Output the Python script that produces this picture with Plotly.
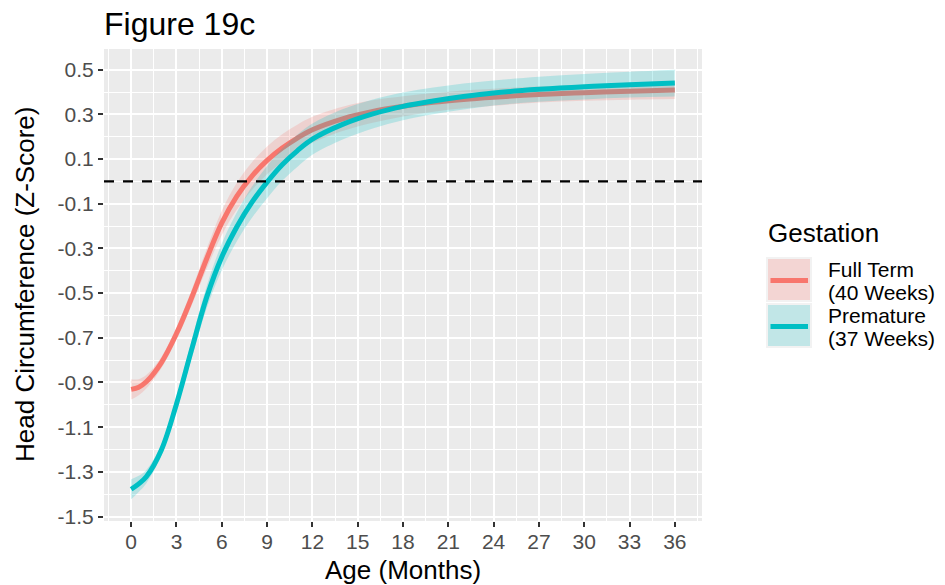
import plotly.graph_objects as go

# ---------------- data ----------------
months = [0, 0.5, 1, 2, 3, 4, 5, 6, 7, 8, 9, 10, 11, 12, 14, 16, 18, 20, 22, 24, 27, 30, 33, 36]

full_term = [-0.931, -0.921, -0.897, -0.811, -0.681, -0.521, -0.346, -0.186, -0.066, 0.024,
             0.094, 0.149, 0.194, 0.231, 0.280, 0.313, 0.336, 0.354, 0.367, 0.377,
             0.389, 0.397, 0.404, 0.409]
full_term_se = [0.045, 0.036, 0.030, 0.025, 0.028, 0.035, 0.045, 0.055, 0.060, 0.062,
                0.062, 0.062, 0.060, 0.058, 0.054, 0.050, 0.045, 0.042, 0.040, 0.038,
                0.036, 0.036, 0.038, 0.040]

premature = [-1.378, -1.354, -1.322, -1.202, -0.996, -0.753, -0.518, -0.338, -0.203, -0.093,
             -0.003, 0.075, 0.137, 0.189, 0.255, 0.302, 0.336, 0.360, 0.380, 0.396,
             0.412, 0.424, 0.433, 0.440]
premature_se = [0.045, 0.036, 0.030, 0.025, 0.030, 0.040, 0.050, 0.060, 0.065, 0.070,
                0.072, 0.072, 0.072, 0.070, 0.068, 0.065, 0.062, 0.060, 0.058, 0.056,
                0.056, 0.057, 0.058, 0.060]

x_ticks = [0, 3, 6, 9, 12, 15, 18, 21, 24, 27, 30, 33, 36]
y_ticks = [-1.5, -1.3, -1.1, -0.9, -0.7, -0.5, -0.3, -0.1, 0.1, 0.3, 0.5]
y_tick_labels = ["-1.5", "-1.3", "-1.1", "-0.9", "-0.7", "-0.5", "-0.3", "-0.1", "0.1", "0.3", "0.5"]

series_names = ["Full Term", "Premature"]
legend_lines = [["Full Term", "(40 Weeks)"], ["Premature", "(37 Weeks)"]]
line_colors = ["#F8766D", "#00BFC4"]
fill_colors = ["rgba(248,118,109,0.22)", "rgba(0,191,196,0.22)"]
key_fills = ["#F3D5D3", "#C1E6E7"]

FONT = "Liberation Sans, Arial, sans-serif"

W, H = 945, 585
ML, MR, MT, MB = 104, 243, 49, 64
PW, PH = W - ML - MR, H - MT - MB


def px(xp):
    return (xp - ML) / PW


def py(yp):
    return (H - MB - yp) / PH


fig = go.Figure()

for name, yv, se, lc, fc in zip(series_names, [full_term, premature],
                                [full_term_se, premature_se], line_colors, fill_colors):
    lower = [v - s for v, s in zip(yv, se)]
    upper = [v + s for v, s in zip(yv, se)]
    fig.add_trace(go.Scatter(x=months, y=lower, mode="lines",
                             line=dict(width=0, shape="spline", color=fc),
                             showlegend=False, hoverinfo="skip"))
    fig.add_trace(go.Scatter(x=months, y=upper, mode="lines", fill="tonexty",
                             fillcolor=fc, line=dict(width=0, shape="spline", color=fc),
                             showlegend=False, hoverinfo="skip"))
    fig.add_trace(go.Scatter(x=months, y=yv, mode="lines", name=name,
                             line=dict(width=5, shape="spline", color=lc),
                             showlegend=False))

# dashed reference line at zero
fig.add_shape(type="line", xref="paper", yref="y", x0=0, x1=1, y0=0, y1=0,
              line=dict(color="black", width=2.2, dash="10px,9px"), layer="above")

# ---------------- custom legend ----------------
shapes = []
annotations = []
annotations.append(dict(text="Gestation", x=px(766), y=py(233), xref="paper", yref="paper",
                        xanchor="left", yanchor="middle", showarrow=False,
                        font=dict(family=FONT, size=26, color="black")))
key_tops = [257, 303]
for i in range(2):
    t = key_tops[i]
    shapes.append(dict(type="rect", xref="paper", yref="paper",
                       x0=px(766), x1=px(812), y0=py(t), y1=py(t + 45),
                       fillcolor="#F2F2F2", line=dict(width=0), layer="above"))
    shapes.append(dict(type="rect", xref="paper", yref="paper",
                       x0=px(768), x1=px(810), y0=py(t + 2), y1=py(t + 43),
                       fillcolor=key_fills[i], line=dict(width=0), layer="above"))
    shapes.append(dict(type="line", xref="paper", yref="paper",
                       x0=px(770.5), x1=px(808), y0=py(t + 23.5), y1=py(t + 23.5),
                       line=dict(color=line_colors[i], width=5), layer="above"))
    for j, txt in enumerate(legend_lines[i]):
        annotations.append(dict(text=txt, x=px(826), y=py(t + 12 + j * 23.5),
                                xref="paper", yref="paper", xanchor="left", yanchor="middle",
                                showarrow=False,
                                font=dict(family=FONT, size=21, color="black")))

# titles
annotations.append(dict(text="Figure 19c", x=px(102), y=py(24), xref="paper", yref="paper",
                        xanchor="left", yanchor="middle", showarrow=False,
                        font=dict(family=FONT, size=32, color="black")))
annotations.append(dict(text="Age (Months)", x=0.5, y=py(570), xref="paper", yref="paper",
                        xanchor="center", yanchor="middle", showarrow=False,
                        font=dict(family=FONT, size=26, color="black")))
annotations.append(dict(text="Head Circumference (Z-Score)", x=px(25), y=0.5,
                        xref="paper", yref="paper", xanchor="center", yanchor="middle",
                        textangle=-90, showarrow=False,
                        font=dict(family=FONT, size=26, color="black")))

for s in shapes:
    fig.add_shape(**s)

fig.update_layout(
    width=W, height=H,
    margin=dict(l=ML, r=MR, t=MT, b=MB, pad=0),
    paper_bgcolor="white", plot_bgcolor="#EBEBEB",
    font=dict(family=FONT),
    showlegend=False,
    annotations=annotations,
)

fig.update_xaxes(
    range=[-1.8, 37.8], tickvals=x_ticks, ticktext=[str(v) for v in x_ticks],
    showgrid=True, gridcolor="white", gridwidth=2, zeroline=False,
    ticks="outside", ticklen=5, tickwidth=2, tickcolor="#333333",
    ticklabelstandoff=-3,
    tickfont=dict(family=FONT, size=21, color="#4D4D4D"),
    minor=dict(dtick=1.5, tick0=0, showgrid=True, gridcolor="white", gridwidth=1, ticks=""),
    showline=False, fixedrange=True,
)
fig.update_yaxes(
    range=[-1.52, 0.5926], tickvals=y_ticks, ticktext=y_tick_labels,
    showgrid=True, gridcolor="white", gridwidth=2, zeroline=False,
    ticks="outside", ticklen=5, tickwidth=2, tickcolor="#333333",
    tickfont=dict(family=FONT, size=21, color="#4D4D4D"),
    minor=dict(dtick=0.1, tick0=0, showgrid=True, gridcolor="white", gridwidth=1, ticks=""),
    showline=False, fixedrange=True,
)

fig.write_html("out.html")
